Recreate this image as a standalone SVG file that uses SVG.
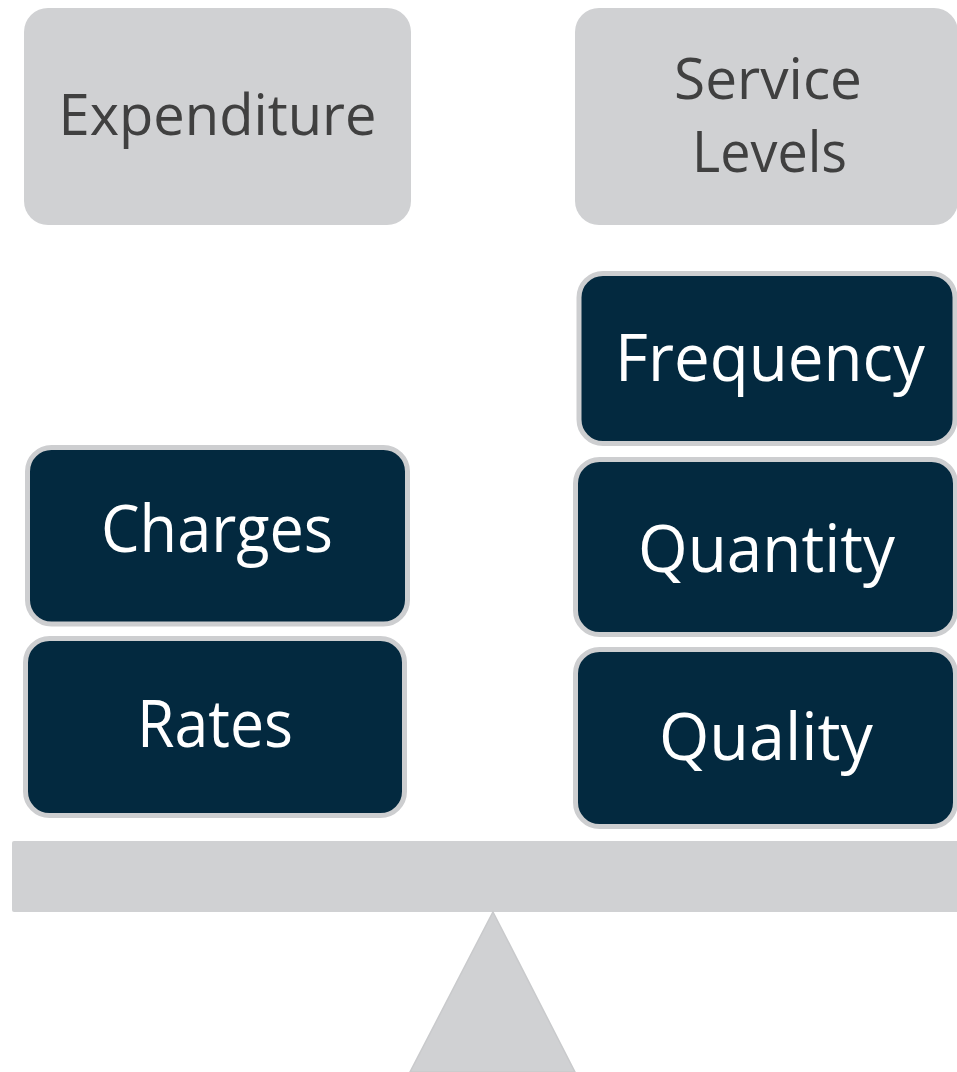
<svg xmlns="http://www.w3.org/2000/svg" width="957" height="1072" viewBox="0 0 957 1072">
  <style>
    .head { fill: #d0d1d3; }
    .headtxt { font-family: "Open Sans", "Noto Sans", sans-serif; fill: #404040; text-anchor: middle; }
    .item { fill: #03293f; stroke: #cdced0; stroke-width: 5; }
    .itemtxt { font-family: "Open Sans", "Noto Sans", sans-serif; fill: #ffffff; text-anchor: middle; font-size: 66px; }
    .scale { fill: #d0d1d3; }
  </style>
  <rect width="957" height="1072" fill="#ffffff"/>

  <g id="scale">
    <rect class="scale" x="12" y="841" width="950" height="71" rx="2"/>
    <polygon class="scale" points="493,912 575,1072 410,1072" stroke="#c9cacc" stroke-width="1.5"/>
  </g>

  <g id="expenditure">
    <rect class="head" x="24" y="8" width="387" height="217" rx="24"/>
    <text class="headtxt" x="217.5" y="135" font-size="57.5" textLength="318" lengthAdjust="spacingAndGlyphs">Expenditure</text>
  </g>

  <g id="service-levels">
    <rect class="head" x="575" y="8" width="383" height="217" rx="24"/>
    <text class="headtxt" x="768" y="99" font-size="57.5" textLength="188" lengthAdjust="spacingAndGlyphs">Service</text>
    <text class="headtxt" x="769.5" y="172" font-size="57.5" textLength="155" lengthAdjust="spacingAndGlyphs">Levels</text>
  </g>

  <g id="charges">
    <rect class="item" x="27.5" y="447.5" width="380" height="176.5" rx="24"/>
    <text class="itemtxt" x="217" y="552" textLength="232" lengthAdjust="spacingAndGlyphs">Charges</text>
  </g>

  <g id="rates">
    <rect class="item" x="25.5" y="638.5" width="379" height="177" rx="24"/>
    <text class="itemtxt" x="215" y="747" textLength="156" lengthAdjust="spacingAndGlyphs">Rates</text>
  </g>

  <g id="frequency">
    <rect class="item" x="579" y="273.5" width="376" height="170" rx="24"/>
    <text class="itemtxt" x="770" y="381" textLength="310" lengthAdjust="spacingAndGlyphs">Frequency</text>
  </g>

  <g id="quantity">
    <rect class="item" x="575.5" y="459.5" width="380" height="175" rx="24"/>
    <text class="itemtxt" x="766.5" y="572" textLength="257" lengthAdjust="spacingAndGlyphs">Quantity</text>
  </g>

  <g id="quality">
    <rect class="item" x="575.5" y="649.5" width="380" height="177" rx="24"/>
    <text class="itemtxt" x="766" y="760" textLength="214" lengthAdjust="spacingAndGlyphs">Quality</text>
  </g>

  <g id="connectors"></g>
</svg>
